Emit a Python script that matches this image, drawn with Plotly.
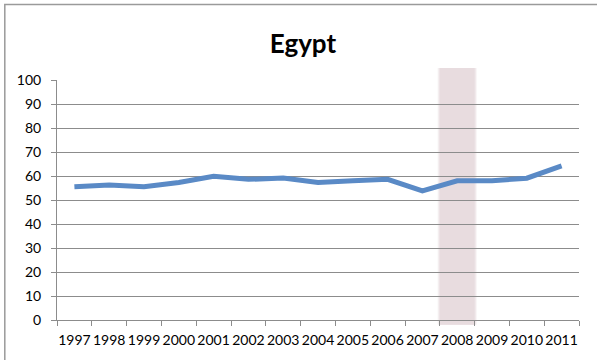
import plotly.graph_objects as go

# Annual series for Egypt
years = ["1997", "1998", "1999", "2000", "2001", "2002", "2003", "2004",
         "2005", "2006", "2007", "2008", "2009", "2010", "2011"]
values = [55.5, 56.3, 55.5, 57.3, 59.9, 58.6, 59.2, 57.3,
          58.0, 58.6, 53.8, 58.0, 58.0, 59.1, 64.2]
highlight_year = "2008"
y_ticks = list(range(0, 101, 10))

FONT = "Lato"
GRID = "#8c8c8c"

fig = go.Figure()
fig.add_trace(go.Scatter(
    x=years, y=values, mode="lines",
    line=dict(color="#5A8AC6", width=5),
    hoverinfo="x+y", showlegend=False,
))

# Shaded band behind the highlighted year (soft edges via stacked layers)
n = len(years)
idx = years.index(highlight_year)
for pad, op in [(0.06, 0.35), (0.03, 0.6), (0.0, 1.0)]:
    fig.add_shape(
        type="rect", xref="paper", yref="paper", layer="below",
        x0=(idx - pad) / n, x1=(idx + 1 + pad) / n,
        y0=-0.02, y1=1.05,
        fillcolor="#E8DCDF", opacity=op, line=dict(width=0),
    )

# Outer chart frame
fig.add_shape(
    type="rect", xref="paper", yref="paper", layer="below",
    x0=-0.1, x1=1.2, y0=-0.3, y1=1.315,
    fillcolor="rgba(0,0,0,0)", line=dict(color="#9a9a9a", width=1.5),
)

fig.update_layout(
    width=597, height=360,
    margin=dict(l=57, r=18, t=80, b=40),
    paper_bgcolor="white", plot_bgcolor="rgba(0,0,0,0)",
    font=dict(family=FONT, color="#000000", size=14),
    title=dict(text="<b>Egypt</b>", x=303 / 597, xanchor="center",
               y=1 - 44 / 360, yanchor="middle",
               font=dict(family=FONT, size=26, color="#000000")),
)
fig.update_xaxes(
    type="category", range=[-0.5, n - 0.5], automargin=False,
    showgrid=False, showline=True, linecolor=GRID, linewidth=1,
    ticks="outside", tickson="boundaries", ticklen=5, tickcolor=GRID,
    tickangle=0, ticklabelstandoff=7,
    tickfont=dict(family=FONT, size=14), fixedrange=True,
)
fig.update_yaxes(
    range=[0, 100], tickvals=y_ticks, automargin=False,
    showgrid=True, gridcolor=GRID, gridwidth=1,
    showline=True, linecolor=GRID, linewidth=1, zeroline=False,
    ticks="outside", ticklen=5, tickcolor=GRID, ticklabelstandoff=7,
    tickfont=dict(family=FONT, size=14), fixedrange=True,
)

fig.write_html("out.html")
